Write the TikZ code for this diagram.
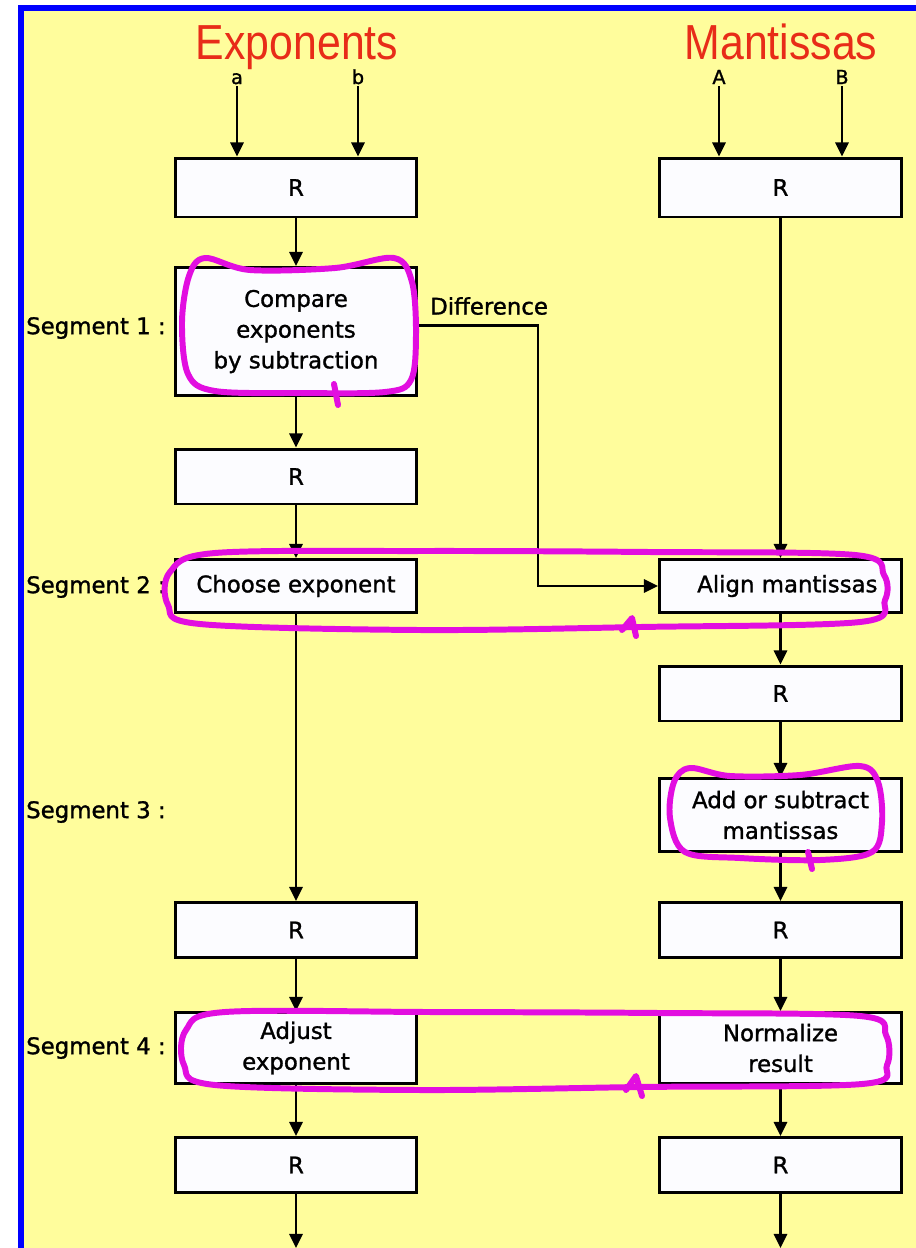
\documentclass[tikz,border=0pt]{standalone}
\usepackage{fontspec}
\setmainfont{DejaVu Sans}
\newfontfamily\boxface[FakeBold=1.3]{DejaVu Sans}
\newfontfamily\titlefont[FakeStretch=0.87]{Liberation Sans}
\usetikzlibrary{arrows.meta}

\definecolor{bgyellow}{RGB}{255,253,156}
\definecolor{frameblue}{RGB}{0,0,255}
\definecolor{boxwhite}{RGB}{252,252,255}
\definecolor{titlered}{RGB}{232,44,24}
\definecolor{penpink}{RGB}{226,14,224}

\newcommand{\boxfont}{\boxface\fontsize{13}{17.5}\selectfont}

\tikzset{
regbox/.style={draw=black,line width=1.7pt,fill=boxwhite,
inner sep=0pt,minimum width=4.84cm,align=center,font=\boxfont},
arr/.style={line width=1.3pt,-{Triangle[length=8pt,width=7.5pt]}},
hand/.style={draw=penpink,line width=3.4pt,line join=round,line cap=round},
seglab/.style={anchor=west,font=\boxfont},
inlab/.style={anchor=base,inner sep=1pt,font=\boxface\fontsize{11}{13}\selectfont},
title/.style={anchor=base,inner sep=0pt,text depth=0pt,text=titlered,font=\titlefont\fontsize{28}{30}\selectfont}
}

\begin{document}
\begin{tikzpicture}[x=0.02cm,y=-0.02cm]
\useasboundingbox (0,0) rectangle (916,1248);
\fill[bgyellow] (18,5) rectangle (916,1248);
\fill[frameblue] (18,5) rectangle (24,1248);
\fill[frameblue] (18,5) rectangle (916,11);

\node[title] (expt) at (297,59){Exponents};
\node[title] (mant) at (781,59){Mantissas};

\node[inlab] (ina) at (237,84){a};
\node[inlab] (inb) at (358,84){b};
\node[inlab] (inA) at (719,84){A};
\node[inlab] (inB) at (842,84){B};

% exponent side
\node[regbox,minimum height=1.18cm] (ra) at (296,187.5){R};
\node[regbox,minimum height=2.56cm] (cmp) at (296,331.5){Compare\\exponents\\by subtraction};
\node[regbox,minimum height=1.1cm] (rc) at (296,476.5){R};
\node[regbox,minimum height=1.06cm] (choose) at (296,586){Choose exponent};
\node[regbox,minimum height=1.1cm] (re) at (296,930){R};
\node[regbox,minimum height=1.42cm] (adjust) at (296,1048){Adjust\\exponent};
\node[regbox,minimum height=1.1cm] (rg) at (296,1165){R};

% mantissa side
\node[regbox,minimum height=1.18cm] (rb) at (780.5,187.5){R};
\node[regbox,minimum height=1.06cm] (align) at (780.5,586){\hspace*{0.6em}Align mantissas};
\node[regbox,minimum height=1.1cm] (rd) at (780.5,693.5){R};
\node[regbox,minimum height=1.46cm] (addsub) at (780.5,815){Add or subtract\\mantissas};
\node[regbox,minimum height=1.1cm] (rf) at (780.5,930){R};
\node[regbox,minimum height=1.42cm] (norm) at (780.5,1048){Normalize\\result};
\node[regbox,minimum height=1.1cm] (rh) at (780.5,1165){R};

\node[seglab] (seg1) at (20,328){Segment 1 :};
\node[seglab] (seg2) at (20,587){Segment 2 :};
\node[seglab] (seg3) at (20,812){Segment 3 :};
\node[seglab] (seg4) at (20,1048){Segment 4 :};

\node[anchor=west,font=\boxfont] (diff) at (424,306){Difference};

\coordinate (outl) at (296,1248);
\coordinate (outr) at (780.5,1248);
\coordinate (turn) at (538,586);

\draw [arr] (ina) -- (ina |- ra.north);
\draw [arr] (inb) -- (inb |- ra.north);
\draw [arr] (inA) -- (inA |- rb.north);
\draw [arr] (inB) -- (inB |- rb.north);

\draw [arr] (ra) -- (cmp);
\draw [arr] (cmp) -- (rc);
\draw [arr] (rc) -- (choose);
\draw [arr] (choose) -- (re);
\draw [arr] (re) -- (adjust);
\draw [arr] (adjust) -- (rg);
\draw [arr] (rg) -- (outl);

\draw [arr] (rb) -- (align);
\draw [arr] (align) -- (rd);
\draw [arr] (rd) -- (addsub);
\draw [arr] (addsub) -- (rf);
\draw [arr] (rf) -- (norm);
\draw [arr] (norm) -- (rh);
\draw [arr] (rh) -- (outr);

\draw [arr] ([yshift=0.12cm]cmp.east) -| (turn) -- (align.west);

% pen marks
\draw[hand] plot[smooth cycle,tension=0.55] coordinates {(205,258) (250,270) (335,268) (394,258) (412,282) (416,335) (411,380) (385,392) (300,393) (215,391) (188,374) (182,322) (189,276)};
\draw[hand] (334,384) -- (338,405);
\draw[hand] plot[smooth cycle,tension=0.55] coordinates {(215,553) (420,551) (650,552) (855,555) (884,575) (885,600) (860,622) (640,627) (420,630) (200,624) (168,605) (170,572)};
\draw[hand] (622,630) -- (632,618) -- (636,636);
\draw[hand] plot[smooth cycle,tension=0.55] coordinates {(690,768) (730,776) (800,775) (860,766) (878,782) (882,822) (872,852) (820,860) (740,858) (685,852) (670,818) (674,782)};
\draw[hand] (808,852) -- (812,869);
\draw[hand] plot[smooth cycle,tension=0.55] coordinates {(225,1012) (430,1012) (660,1013) (860,1016) (886,1035) (887,1065) (862,1084) (640,1087) (420,1090) (215,1085) (184,1065) (186,1030)};
\draw[hand] (626,1090) -- (636,1076) -- (642,1096);
\end{tikzpicture}
\end{document}
